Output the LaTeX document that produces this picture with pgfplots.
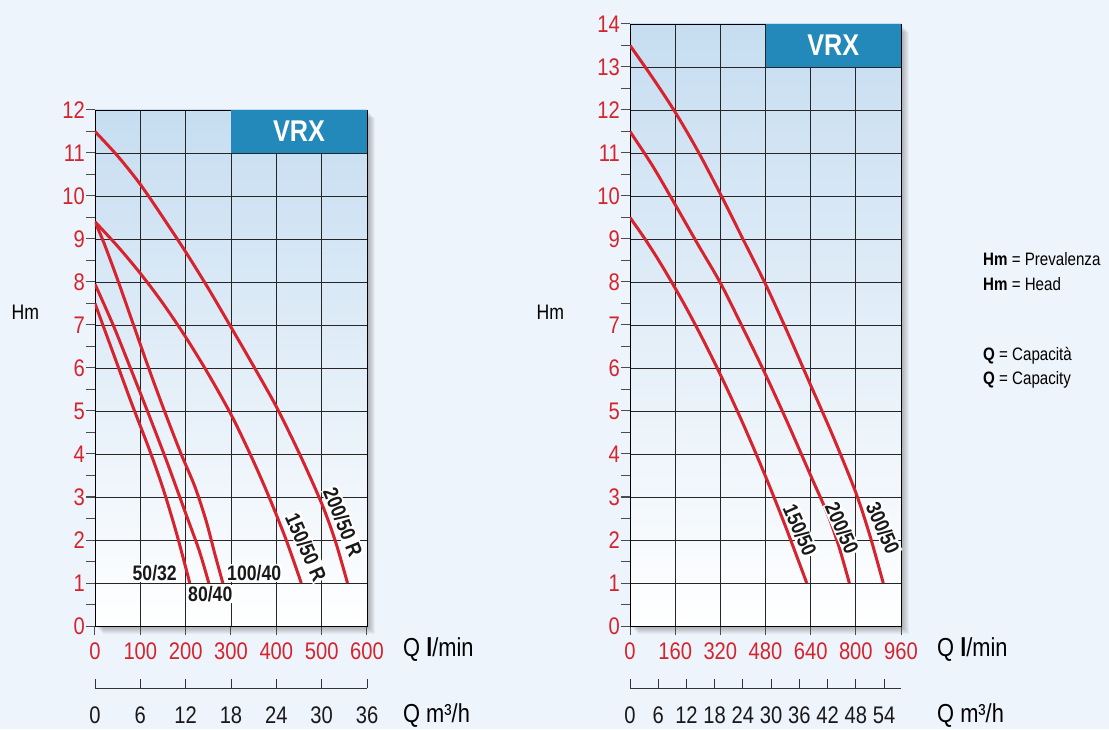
\documentclass[border=0pt]{standalone}
\usepackage{pgfplots}
\pgfplotsset{compat=1.18}
\usepackage{fontspec}
\setmainfont{Liberation Sans}[FakeStretch=0.84]

\definecolor{pagebg}{RGB}{238,244,251}
\definecolor{topblue}{RGB}{198,221,241}
\definecolor{boxblue}{RGB}{35,136,186}
\definecolor{curvered}{RGB}{214,35,45}
\definecolor{tickred}{RGB}{212,36,46}

\newcommand{\tickfont}{\fontsize{24}{24}\selectfont}
\newcommand{\curvefont}{\bfseries\fontsize{21}{21}\selectfont}

\tikzset{
    curve/.style={curvered, line width=3pt, smooth, line cap=butt},
    curvelabel/.style={font=\curvefont, text=black!90, fill=white, inner sep=1pt},
}

\pgfplotsset{
    vrxaxis/.style={
        scale only axis,
        anchor=south west,
        xmin=0, ymin=0,
        tick align=outside,
        tick pos=left,
        major tick length=9pt,
        minor tick length=9pt,
        minor y tick num=1,
        grid=major,
        major grid style={black!85, line width=0.7pt},
        axis line style={black, line width=0.9pt},
        tick style={black!70, line width=1pt},
        minor tick style={black!70, line width=1pt},
        /pgf/number format/assume math mode=true,
        tick label style={font=\tickfont, text=tickred, inner sep=1pt},
        xticklabel style={yshift=-7pt},
        axis background/.style={shade, top color=topblue, bottom color=white},
    },
    flowaxis/.style={
        scale only axis,
        anchor=south west,
        height=10pt,
        ymin=0, ymax=1,
        axis x line*=bottom,
        axis y line=none,
        axis line style={-, black!80, line width=0.9pt},
        tick align=inside,
        major tick length=9pt,
        tick style={black!80, line width=0.9pt},
        /pgf/number format/assume math mode=true,
        xticklabel style={font=\tickfont, text=black!90, inner sep=1pt, yshift=-18pt},
    },
}

\begin{document}
\begin{tikzpicture}
\begin{scope}[x=1pt, y=1pt]
\path[use as bounding box, fill=pagebg] (0,0) rectangle (1109,729);
% soft shadows behind the two plot areas
\foreach \i in {1,...,8} {
    \fill[black, opacity=0.04] (95+\i,103-\i) rectangle (367+\i,619-\i);
    \fill[black, opacity=0.04] (630+\i,103-\i) rectangle (901+\i,705-\i);
}
\end{scope}

% ---------------- left chart ----------------
\begin{axis}[vrxaxis,
    at={(95pt,103pt)}, width=272pt, height=516pt,
    xmax=600, ymax=12,
    xtick={0,100,...,600}, ytick={0,1,...,12},
]
\fill[boxblue] (axis cs:300,11) rectangle (axis cs:600,12);
\node[font=\bfseries\fontsize{30}{30}\selectfont, text=white] at (axis cs:450,11.5) {VRX};

% 50/32
\addplot[curve] coordinates {(0,7.5) (40,6.35) (80,5.2) (120,4.1) (150,3.2) (180,2.15) (209,1)};
% 80/40
\addplot[curve] coordinates {(0,7.95) (40,7.0) (80,5.95) (120,4.88) (160,3.78) (200,2.62) (230,1.75) (251,1)};
% 100/40
\addplot[curve] coordinates {(0,9.4) (20,8.9) (50,8.05) (85,7.0) (120,5.95) (155,4.95) (190,4.0) (220,3.25) (245,2.45) (265,1.65) (282,1)};
% 150/50 R
\addplot[curve] coordinates {(0,9.4) (50,8.83) (100,8.2) (150,7.5) (200,6.72) (250,5.86) (300,4.92) (340,4.05) (380,3.1) (420,2.05) (455,1)};
% 200/50 R
\addplot[curve] coordinates {(0,11.5) (50,10.93) (100,10.27) (150,9.5) (200,8.7) (250,7.85) (300,6.95) (350,6.04) (400,5.1) (450,4.03) (500,2.85) (530,1.98) (557,1)};
\end{axis}

\begin{axis}[flowaxis,
    at={(95pt,41pt)}, width=272pt,
    xmin=0, xmax=36, xtick={0,6,...,36},
]
\end{axis}

% ---------------- right chart ----------------
\begin{axis}[vrxaxis,
    at={(630pt,103pt)}, width=271pt, height=602pt,
    xmax=960, ymax=14,
    xtick={0,160,...,960}, ytick={0,1,...,14},
]
\fill[boxblue] (axis cs:480,13) rectangle (axis cs:960,14);
\node[font=\bfseries\fontsize{30}{30}\selectfont, text=white] at (axis cs:720,13.5) {VRX};

% 150/50
\addplot[curve] coordinates {(0,9.5) (50,9.03) (100,8.52) (150,7.97) (200,7.39) (250,6.77) (300,6.12) (350,5.43) (400,4.71) (450,3.95) (500,3.16) (550,2.33) (600,1.46) (626,1)};
% 200/50
\addplot[curve] coordinates {(0,11.5) (80,10.7) (160,9.8) (240,8.88) (320,7.98) (400,6.93) (480,5.85) (560,4.7) (640,3.5) (700,2.6) (740,1.85) (777,1)};
% 300/50
\addplot[curve] coordinates {(0,13.5) (80,12.75) (160,11.95) (240,11.05) (320,10.05) (400,9.0) (480,7.95) (560,6.8) (640,5.6) (720,4.4) (800,3.1) (850,2.1) (897,1)};
\end{axis}

\begin{axis}[flowaxis,
    at={(630pt,41pt)}, width=271pt,
    xmin=0, xmax=57.6, xtick={0,6,...,54},
]
\end{axis}

\begin{scope}[x=1pt, y=1pt]
\node[curvelabel, anchor=east] at (178,156) {50/32};
\node[curvelabel, anchor=west] at (187,135) {80/40};
\node[curvelabel, anchor=west] at (226,156) {100/40};
\node[curvelabel, rotate=-66] at (306,182) {150/50 R};
\node[curvelabel, rotate=-68] at (343,207) {200/50 R};

\node[curvelabel, rotate=-66] at (800,199) {150/50};
\node[curvelabel, rotate=-66] at (842,201) {200/50};
\node[curvelabel, rotate=-66] at (883,201) {300/50};

\node[anchor=west, font=\fontsize{21}{21}\selectfont] at (8,417) {Hm};
\node[anchor=west, font=\fontsize{26}{26}\selectfont, inner sep=0pt] at (403,79) {Q \textbf{l}/min};
\node[anchor=west, font=\fontsize{26}{26}\selectfont, inner sep=0pt] at (403,13) {Q m³/h};

\node[anchor=west, font=\fontsize{21}{21}\selectfont] at (533,417) {Hm};
\node[anchor=west, font=\fontsize{26}{26}\selectfont, inner sep=0pt] at (937,79) {Q \textbf{l}/min};
\node[anchor=west, font=\fontsize{26}{26}\selectfont, inner sep=0pt] at (937,13) {Q m³/h};

\begin{scope}[every node/.style={anchor=west, inner sep=0pt, font=\fontsize{18}{18}\selectfont}]
\node at (983,470) {\textbf{Hm} = Prevalenza};
\node at (983,445) {\textbf{Hm} = Head};
\node at (983,373) {\textbf{Q} = Capacità};
\node at (983,349) {\textbf{Q} = Capacity};
\end{scope}
\end{scope}
\end{tikzpicture}
\end{document}
